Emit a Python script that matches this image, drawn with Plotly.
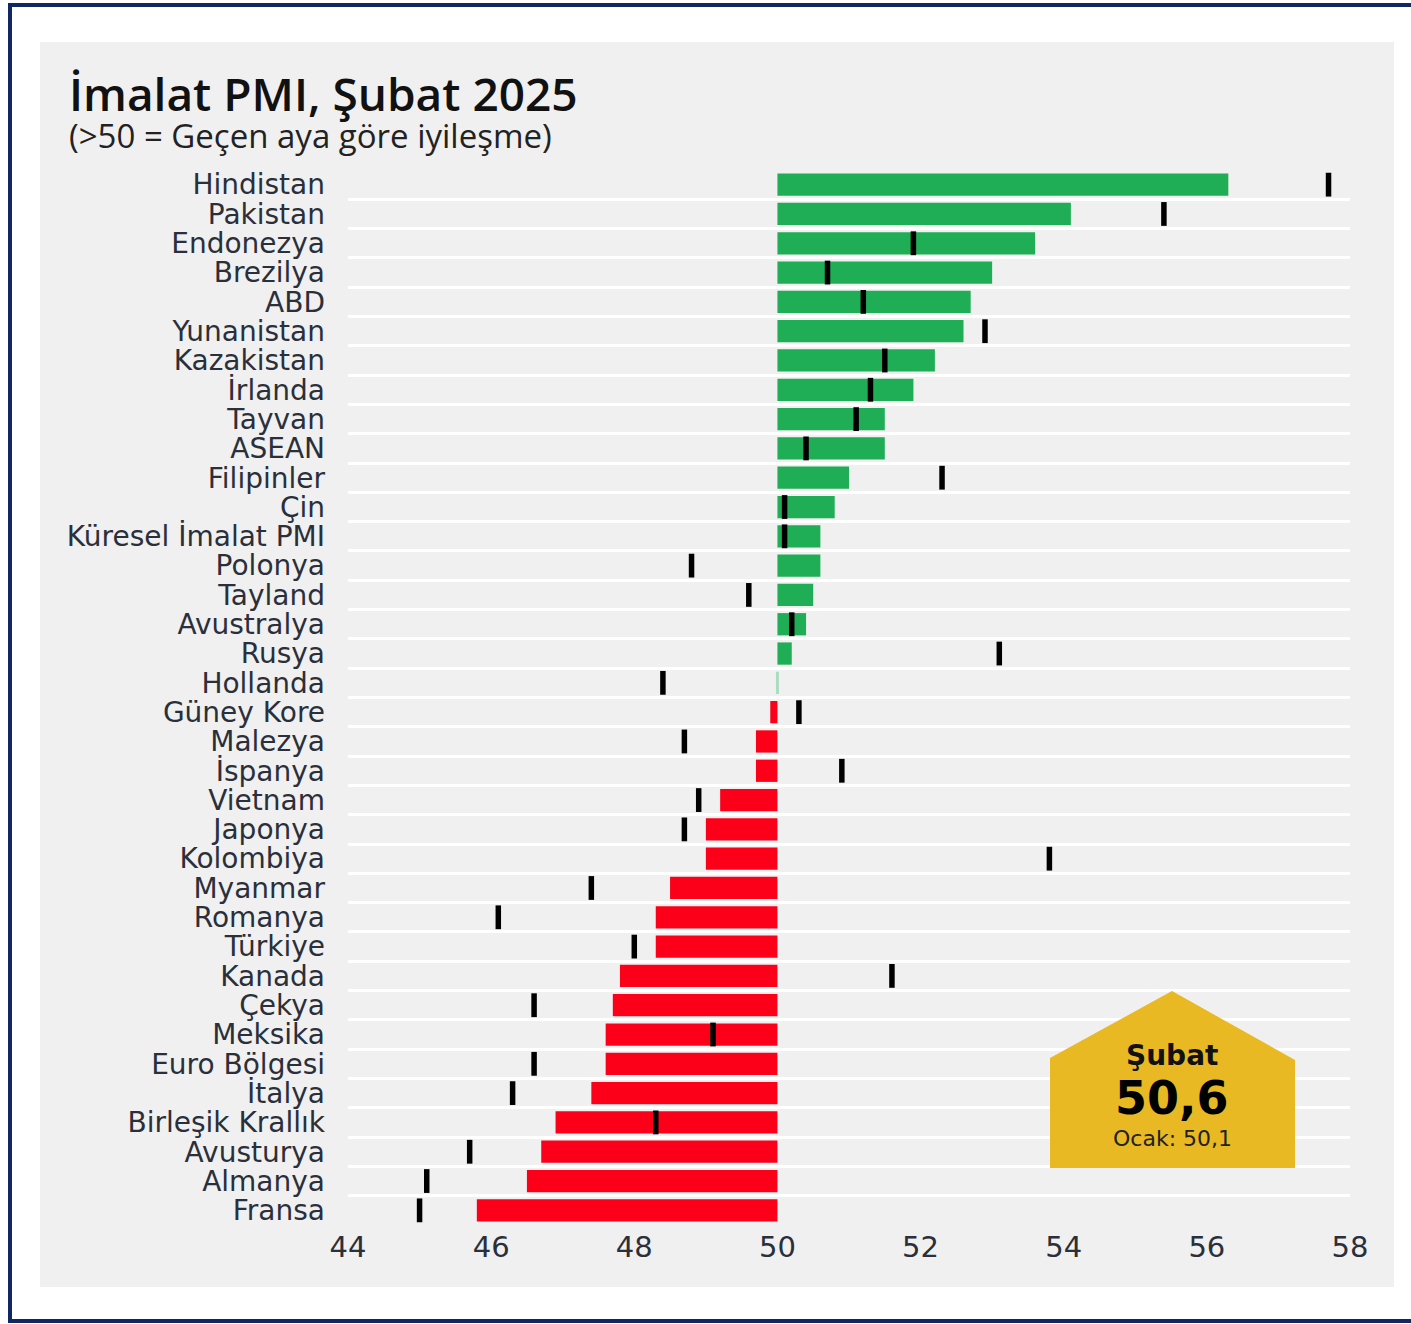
import plotly.graph_objects as go

countries = [
    "Hindistan", "Pakistan", "Endonezya", "Brezilya", "ABD", "Yunanistan",
    "Kazakistan", "İrlanda", "Tayvan", "ASEAN", "Filipinler", "Çin",
    "Küresel İmalat PMI", "Polonya", "Tayland", "Avustralya", "Rusya", "Hollanda",
    "Güney Kore", "Malezya", "İspanya", "Vietnam", "Japonya", "Kolombiya",
    "Myanmar", "Romanya", "Türkiye", "Kanada", "Çekya", "Meksika",
    "Euro Bölgesi", "İtalya", "Birleşik Krallık", "Avusturya", "Almanya", "Fransa",
]
# Şubat 2025 (bars)
subat = [
    56.3, 54.1, 53.6, 53.0, 52.7, 52.6, 52.2, 51.9, 51.5, 51.5, 51.0, 50.8,
    50.6, 50.6, 50.5, 50.4, 50.2, 50.0, 49.9, 49.7, 49.7, 49.2, 49.0, 49.0,
    48.5, 48.3, 48.3, 47.8, 47.7, 47.6, 47.6, 47.4, 46.9, 46.7, 46.5, 45.8,
]
# Ocak 2025 (black ticks)
ocak = [
    57.7, 55.4, 51.9, 50.7, 51.2, 52.9, 51.5, 51.3, 51.1, 50.4, 52.3, 50.1,
    50.1, 48.8, 49.6, 50.2, 53.1, 48.4, 50.3, 48.7, 50.9, 48.9, 48.7, 53.8,
    47.4, 46.1, 48.0, 51.6, 46.6, 49.1, 46.6, 46.3, 48.3, 45.7, 45.1, 45.0,
]
x_ticks = [44, 46, 48, 50, 52, 54, 56, 58]
base = 50

GREEN = "#1fae55"
RED = "#fb0018"
FLAT = "#a9dcc0"
GOLD = "#e8b923"
PANEL = "#f0f0f0"
NAVY = "#0f2764"
LABEL_FONT = "DejaVu Sans"

W, H = 1411, 1324
L, R, T, B = 348, 1350, 170, 1225


def px(x):
    return (x - L) / (R - L)


def py(y):
    return (B - y) / (B - T)


bar_colors = [GREEN if v > base else RED if v < base else FLAT for v in subat]
line_w = [0 if v != base else 3 for v in subat]

fig = go.Figure()
fig.add_trace(go.Bar(
    y=countries, x=[v - base for v in subat], base=base,
    orientation="h", width=0.76,
    marker=dict(color=bar_colors, line=dict(color=bar_colors, width=line_w)),
    hovertemplate="%{y}: %{customdata}<extra>Şubat</extra>",
    customdata=subat,
))
fig.add_trace(go.Scatter(
    y=countries, x=ocak, mode="markers",
    marker=dict(symbol="line-ns", size=17, line=dict(color="#000000", width=5.5)),
    hovertemplate="%{y}: %{x}<extra>Ocak</extra>",
))

shapes = [
    # gray panel
    dict(type="rect", xref="paper", yref="paper", layer="below",
         x0=px(40), x1=px(1394), y0=py(1287), y1=py(42),
         fillcolor=PANEL, line=dict(width=0)),
    # navy frame (right edge falls outside the page)
    dict(type="rect", xref="paper", yref="paper", layer="below",
         x0=px(10), x1=px(1430), y0=py(1321), y1=py(5),
         fillcolor="rgba(0,0,0,0)", line=dict(color=NAVY, width=4)),
    # gold house-shaped box
    dict(type="path", xref="paper", yref="paper", layer="above",
         path=(f"M {px(1050)},{py(1168)} L {px(1050)},{py(1058)} "
               f"L {px(1172)},{py(991)} L {px(1295)},{py(1060)} "
               f"L {px(1295)},{py(1168)} Z"),
         fillcolor=GOLD, line=dict(width=0)),
]

global_now = f"{subat[countries.index('Küresel İmalat PMI')]:.1f}".replace(".", ",")
global_prev = f"{ocak[countries.index('Küresel İmalat PMI')]:.1f}".replace(".", ",")

annotations = [
    dict(text="İmalat PMI, Şubat 2025", x=px(67), y=py(93), xref="paper", yref="paper",
         xanchor="left", yanchor="middle", showarrow=False,
         font=dict(family="Open Sans", size=46, color="#111111", weight=600)),
    dict(text="(>50 = Geçen aya göre iyileşme)", x=px(67), y=py(136), xref="paper", yref="paper",
         xanchor="left", yanchor="middle", showarrow=False,
         font=dict(family="Open Sans", size=33, color="#222222")),
    dict(text="Şubat", x=px(1172), y=py(1055), xref="paper", yref="paper",
         xanchor="center", yanchor="middle", showarrow=False,
         font=dict(family=LABEL_FONT, size=28, color="#111111", weight="bold")),
    dict(text=global_now, x=px(1172), y=py(1098), xref="paper", yref="paper",
         xanchor="center", yanchor="middle", showarrow=False,
         font=dict(family=LABEL_FONT, size=46, color="#000000", weight="bold")),
    dict(text=f"Ocak: {global_prev}", x=px(1172), y=py(1138), xref="paper", yref="paper",
         xanchor="center", yanchor="middle", showarrow=False,
         font=dict(family=LABEL_FONT, size=22, color="#222222")),
]

fig.update_layout(
    width=W, height=H,
    margin=dict(l=L, r=W - R, t=T, b=H - B, pad=0),
    paper_bgcolor="#ffffff",
    plot_bgcolor="rgba(0,0,0,0)",
    showlegend=False,
    bargap=0.24,
    shapes=shapes,
    annotations=annotations,
    xaxis=dict(
        range=[44, 58], tickvals=x_ticks, ticktext=[str(t) for t in x_ticks],
        showgrid=False, zeroline=False, showline=False, ticks="",
        tickfont=dict(family=LABEL_FONT, size=29, color="#2a2f3a"),
        ticklabelstandoff=2, automargin=False,
    ),
    yaxis=dict(
        type="category", categoryorder="array", categoryarray=countries,
        tickmode="array", tickvals=countries, ticktext=countries,
        range=[len(countries) - 0.5, -0.5], tickson="boundaries",
        showgrid=True, gridcolor="#ffffff", gridwidth=2.5,
        zeroline=False, showline=False, ticks="",
        tickfont=dict(family=LABEL_FONT, size=28, color="#2a2f3a"),
        ticklabelstandoff=22, automargin=False,
    ),
)

fig.write_html("out.html", config={"displayModeBar": False},
               post_script="document.body.style.margin='0';")
